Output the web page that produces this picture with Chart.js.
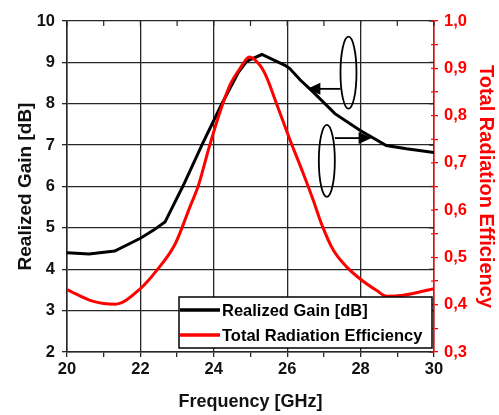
<!DOCTYPE html>
<html>
<head>
<meta charset="utf-8">
<script src="https://cdn.jsdelivr.net/npm/chart.js@4.4.0/dist/chart.umd.min.js"></script>
<style>
  html, body { margin: 0; padding: 0; background: #fff; }
  #wrap { width: 499px; height: 415px; }
</style>
</head>
<body>
<div id="wrap"><canvas id="myChart" width="499" height="415"></canvas></div>
<script>
// realized gain curve (black, left axis)
const freqGain = [20, 20.6, 21.3, 22.0, 22.35, 22.67, 23.17, 23.7, 24.22, 24.67, 24.9, 25.31, 25.94, 26.07, 26.35, 26.71, 27.3, 27.98, 28.7, 29.25, 30]
const gainDb = [4.40, 4.37, 4.44, 4.75, 4.94, 5.14, 6.03, 7.05, 8.0, 8.76, 9.03, 9.19, 8.93, 8.85, 8.58, 8.28, 7.76, 7.36, 6.99, 6.91, 6.82]

// total radiation efficiency (red, right axis)
const freqEff = [20, 20.72, 21.31, 22.0, 22.45, 22.95, 23.35, 23.58, 23.88, 24.2, 24.45, 24.7, 24.97, 25.26, 25.44, 25.71, 26.08, 26.44, 26.71, 26.94, 27.26, 27.62, 27.98, 28.44, 28.71, 29.16, 30]
const efficiency = [0.432, 0.407, 0.401, 0.434, 0.473, 0.529, 0.607, 0.652, 0.735, 0.815, 0.866, 0.898, 0.924, 0.906, 0.881, 0.825, 0.748, 0.677, 0.621, 0.570, 0.515, 0.48, 0.455, 0.43, 0.418, 0.42, 0.434]

const seriesLabels = ['Realized Gain [dB]', 'Total Radiation Efficiency']
const seriesColors = ['#000000', '#ff0000']
const xTitle = 'Frequency [GHz]'
const yTitle = 'Realized Gain [dB]'
const y2Title = 'Total Radiation Efficiency'

// ellipse + arrow callouts (frequency / gain units)
const calloutGain = { cx: 27.67, cy: 8.75, ay: 8.36, tip: 26.55 }
const calloutEff = { cx: 27.08, cy: 6.62, ay: 7.17, tip: 28.30 }

const FONT = 'Liberation Sans, Arial, sans-serif'
const GRID = '#262626'

function pairs(xs, ys) {
    return xs.map((x, i) => ({ x: x, y: ys[i] }))
}

function drawEllipse(ctx, cx, cy, rx, ry) {
    ctx.beginPath()
    ctx.ellipse(cx, cy, rx, ry, 0, 0, Math.PI * 2)
    ctx.stroke()
}

function drawArrow(ctx, x0, y0, x1) {
    const dir = x1 > x0 ? 1 : -1
    ctx.beginPath()
    ctx.moveTo(x0, y0)
    ctx.lineTo(x1 - dir * 10, y0)
    ctx.stroke()
    ctx.beginPath()
    ctx.moveTo(x1, y0)
    ctx.lineTo(x1 - dir * 13, y0 - 6)
    ctx.lineTo(x1 - dir * 13, y0 + 6)
    ctx.closePath()
    ctx.fill()
}

const callouts = {
    id: 'callouts',
    afterDatasetsDraw(chart) {
        const { ctx, scales: { x, y } } = chart
        const rx = 8, ry = 36
        ctx.save()
        ctx.strokeStyle = '#000'
        ctx.fillStyle = '#000'
        ctx.lineWidth = 1.8
        // points left, to the gain curve
        let cx = x.getPixelForValue(calloutGain.cx)
        drawEllipse(ctx, cx, y.getPixelForValue(calloutGain.cy), rx, ry)
        drawArrow(ctx, cx - rx, y.getPixelForValue(calloutGain.ay), x.getPixelForValue(calloutGain.tip))
        // points right, to the efficiency axis
        cx = x.getPixelForValue(calloutEff.cx)
        drawEllipse(ctx, cx, y.getPixelForValue(calloutEff.cy), rx, ry)
        drawArrow(ctx, cx + rx, y.getPixelForValue(calloutEff.ay), x.getPixelForValue(calloutEff.tip))
        ctx.restore()
    }
}

// small inward ticks on the top and right frame, like the origin plot
const innerTicks = {
    id: 'innerTicks',
    afterDraw(chart) {
        const { ctx, chartArea: a, scales: { x, y, y2 } } = chart
        ctx.save()
        ctx.lineWidth = 1.2
        ctx.strokeStyle = GRID
        x.ticks.forEach(t => {
            const px = x.getPixelForValue(t.value)
            ctx.beginPath(); ctx.moveTo(px, a.top); ctx.lineTo(px, a.top + 5); ctx.stroke()
        })
        y.ticks.forEach(t => {
            const py = y.getPixelForValue(t.value)
            ctx.beginPath(); ctx.moveTo(a.right - 5, py); ctx.lineTo(a.right, py); ctx.stroke()
        })
        ctx.strokeStyle = '#ff0000'
        y2.ticks.forEach(t => {
            const py = y2.getPixelForValue(t.value)
            ctx.beginPath(); ctx.moveTo(a.right - 3, py); ctx.lineTo(a.right, py); ctx.stroke()
        })
        ctx.restore()
    }
}

// legend box sitting inside the plot, bottom right
const boxLegend = {
    id: 'boxLegend',
    afterDraw(chart) {
        const { ctx, chartArea: a } = chart
        const w = 253, h = 51
        const left = a.right - 2 - w, top = a.bottom - 4 - h
        ctx.save()
        ctx.fillStyle = '#fff'
        ctx.fillRect(left, top, w, h)
        ctx.strokeStyle = '#000'
        ctx.lineWidth = 1.5
        ctx.strokeRect(left, top, w, h)
        ctx.font = 'bold 16.5px ' + FONT
        ctx.textBaseline = 'middle'
        chart.data.datasets.forEach((ds, i) => {
            const ry = top + 13 + i * 25
            ctx.strokeStyle = ds.borderColor
            ctx.lineWidth = 3.5
            ctx.beginPath(); ctx.moveTo(left + 1, ry); ctx.lineTo(left + 41, ry); ctx.stroke()
            ctx.fillStyle = '#000'
            ctx.fillText(ds.label, left + 43, ry + 1)
        })
        ctx.restore()
    }
}

const tickFont = { family: FONT, size: 16.5, weight: 'bold' }
const titleFont = { family: FONT, size: 19, weight: 'bold' }

const ctx = document.getElementById('myChart')
const myChart = new Chart(ctx, {
    type: 'line',
    data: {
        datasets: [{
            label: seriesLabels[0],
            data: pairs(freqGain, gainDb),
            borderColor: seriesColors[0],
            borderWidth: 3,
            pointRadius: 0,
            tension: 0,
            yAxisID: 'y',
            order: 1
        }, {
            label: seriesLabels[1],
            data: pairs(freqEff, efficiency),
            borderColor: seriesColors[1],
            borderWidth: 3,
            pointRadius: 0,
            cubicInterpolationMode: 'monotone',
            yAxisID: 'y2',
            order: 0
        }]
    },
    options: {
        responsive: false,
        animation: false,
        layout: { padding: { top: 21, left: 0, right: 0, bottom: 0 } },
        plugins: {
            legend: { display: false },
            tooltip: { enabled: false }
        },
        scales: {
            x: {
                type: 'linear',
                min: 20,
                max: 30,
                afterFit: s => { s.height = 63 },
                ticks: {
                    stepSize: 1,
                    autoSkip: false,
                    maxRotation: 0,
                    padding: 3,
                    color: '#111',
                    font: tickFont,
                    callback: v => (v % 2 === 0 ? String(v) : '')
                },
                grid: {
                    color: c => (c.tick && c.tick.value % 2 === 0 ? GRID : 'rgba(0,0,0,0)'),
                    tickColor: GRID,
                    tickLength: 5,
                    lineWidth: 1.3
                },
                border: { color: GRID, width: 1.5 },
                title: {
                    display: true,
                    text: xTitle,
                    color: '#111',
                    font: { family: FONT, size: 18, weight: 'bold' },
                    padding: { top: 0, bottom: 2.5 }
                }
            },
            y: {
                position: 'left',
                min: 2,
                max: 10,
                afterFit: s => { s.width = 67 },
                ticks: {
                    stepSize: 0.5,
                    padding: 7,
                    color: '#111',
                    font: tickFont,
                    callback: v => (Number.isInteger(v) ? String(v) : '')
                },
                grid: {
                    color: c => (c.tick && Number.isInteger(c.tick.value) ? GRID : 'rgba(0,0,0,0)'),
                    tickColor: GRID,
                    tickLength: 5,
                    lineWidth: 1.3
                },
                border: { color: GRID, width: 1.5 },
                title: {
                    display: true,
                    text: yTitle,
                    color: '#111',
                    font: titleFont,
                    padding: { top: 14, bottom: 0 }
                }
            },
            y2: {
                position: 'right',
                min: 0.3,
                max: 1.0,
                afterFit: s => { s.width = 65 },
                ticks: {
                    stepSize: 0.05,
                    padding: 6,
                    color: '#ff0000',
                    font: tickFont,
                    callback: v => {
                        const t = Math.round(v * 100)
                        return t % 10 === 0 ? (t / 100).toFixed(1).replace('.', ',') : ''
                    }
                },
                grid: {
                    drawOnChartArea: false,
                    tickColor: '#ff0000',
                    tickLength: 4,
                    lineWidth: 1.3
                },
                border: { color: '#ff0000', width: 1.5 },
                title: {
                    display: true,
                    text: y2Title,
                    color: '#ff0000',
                    font: { family: FONT, size: 20, weight: 'bold' },
                    padding: { top: 1, bottom: 0 }
                }
            }
        }
    },
    plugins: [callouts, innerTicks, boxLegend]
})
</script>
</body>
</html>
